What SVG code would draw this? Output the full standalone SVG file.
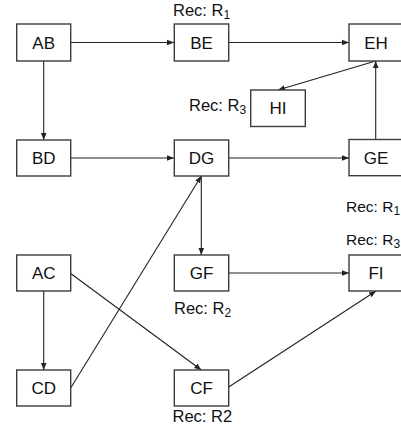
<svg xmlns="http://www.w3.org/2000/svg" width="401" height="434" viewBox="0 0 401 434">
<defs>
<marker id="arr" viewBox="0 0 10 10" refX="10" refY="5" markerWidth="7" markerHeight="7" orient="auto" markerUnits="userSpaceOnUse">
<path d="M0,1 L10,5 L0,9 z" fill="#222"/>
</marker>
<style>
.box{fill:#fff;stroke:#3c3c3c;stroke-width:1.4}
.t{font-family:"Liberation Sans",Arial,sans-serif;font-size:17px;fill:#111;text-anchor:middle}
.l{font-family:"Liberation Sans",Arial,sans-serif;font-size:16.5px;fill:#111}
.sub{font-size:12px}
.c{stroke:#222;stroke-width:1.1;fill:none;marker-end:url(#arr)}
</style>
</defs>
<rect width="401" height="434" fill="#fff"/>
<g id="connectors">
<line class="c" x1="70.7" y1="42.5" x2="174" y2="42.5"/>
<line class="c" x1="228.7" y1="42.5" x2="349" y2="42.5"/>
<line class="c" x1="43.7" y1="61" x2="43.7" y2="140"/>
<line class="c" x1="70.7" y1="158" x2="174" y2="158"/>
<line class="c" x1="228.7" y1="158" x2="349" y2="158"/>
<line class="c" x1="375.7" y1="139.5" x2="375.7" y2="61"/>
<line class="c" x1="375.7" y1="61" x2="278" y2="90"/>
<line class="c" x1="201.3" y1="176" x2="201.3" y2="255"/>
<line class="c" x1="70.7" y1="388" x2="201.3" y2="176"/>
<line class="c" x1="43.7" y1="291" x2="43.7" y2="370"/>
<line class="c" x1="70.7" y1="273.5" x2="201.3" y2="370"/>
<line class="c" x1="228.7" y1="273" x2="349" y2="273"/>
<line class="c" x1="228.7" y1="387" x2="376" y2="291"/>
</g>
<g id="AB"><rect class="box" x="16.7" y="24" width="54" height="37"/><text class="t" x="43.7" y="48.8">AB</text></g>
<g id="BE"><rect class="box" x="174.3" y="24" width="54.4" height="37"/><text class="t" x="201.5" y="48.8">BE</text></g>
<g id="EH"><rect class="box" x="349" y="24" width="54" height="37"/><text class="t" x="376" y="48.8">EH</text></g>
<g id="HI"><rect class="box" x="250.7" y="90" width="54.6" height="36.5"/><text class="t" x="278" y="114.3">HI</text></g>
<g id="BD"><rect class="box" x="16.7" y="140" width="54" height="36"/><text class="t" x="43.7" y="164.3">BD</text></g>
<g id="DG"><rect class="box" x="174.3" y="140" width="54.4" height="36"/><text class="t" x="201.5" y="164.3">DG</text></g>
<g id="GE"><rect class="box" x="349" y="139.5" width="54" height="36.2"/><text class="t" x="376" y="164.3">GE</text></g>
<g id="AC"><rect class="box" x="16.7" y="255" width="54" height="36"/><text class="t" x="43.7" y="279.3">AC</text></g>
<g id="GF"><rect class="box" x="174.3" y="255" width="54.4" height="36"/><text class="t" x="201.5" y="279.3">GF</text></g>
<g id="FI"><rect class="box" x="349" y="255" width="54" height="36"/><text class="t" x="376" y="279.3">FI</text></g>
<g id="CD"><rect class="box" x="16.7" y="370" width="54" height="36"/><text class="t" x="43.7" y="394.3">CD</text></g>
<g id="CF"><rect class="box" x="174.3" y="370" width="54.4" height="36"/><text class="t" x="201.5" y="394.3">CF</text></g>
<g id="labels">
<text class="l" x="173" y="16">Rec: R<tspan class="sub" dy="3">1</tspan></text>
<text class="l" x="189" y="110.5">Rec: R<tspan class="sub" dy="3">3</tspan></text>
<text class="l" x="346" y="211.5" style="font-size:15.5px">Rec: R<tspan class="sub" dy="3">1</tspan></text>
<text class="l" x="346" y="245" style="font-size:15.5px">Rec: R<tspan class="sub" dy="3">3</tspan></text>
<text class="l" x="174" y="314">Rec: R<tspan class="sub" dy="3">2</tspan></text>
<text class="l" x="172.5" y="422">Rec: R2</text>
</g>
</svg>
